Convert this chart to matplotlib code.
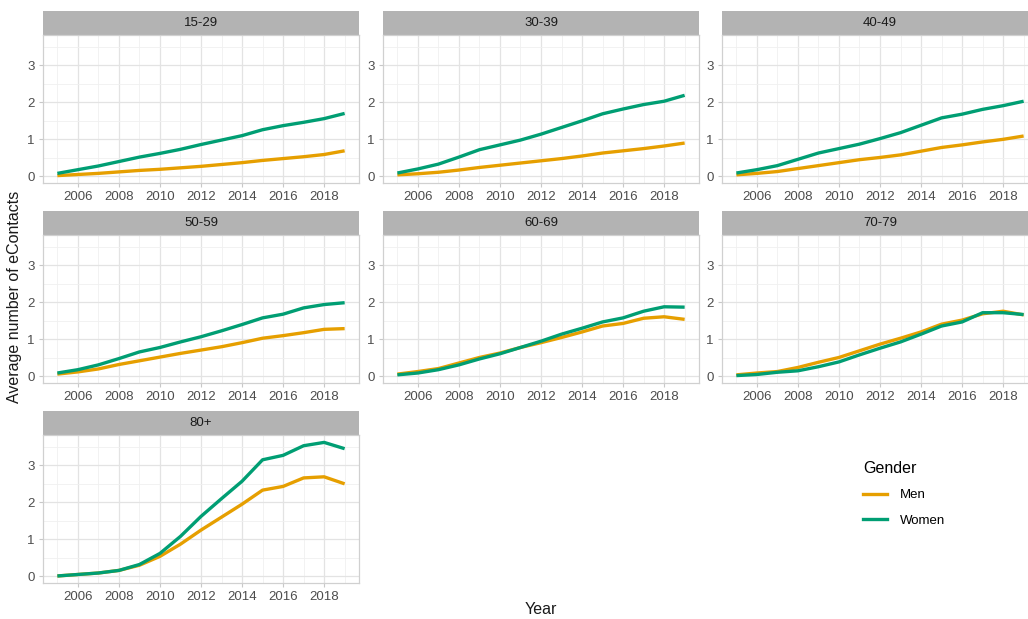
import numpy as np
import matplotlib
matplotlib.use("Agg")
import matplotlib.pyplot as plt
from matplotlib.lines import Line2D

plt.rcParams['font.family'] = ['Liberation Sans', 'DejaVu Sans']

years = list(range(2005, 2020))
groups = ["15-29", "30-39", "40-49", "50-59", "60-69", "70-79", "80+"]

men = {
    "15-29": [0.02, 0.05, 0.08, 0.12, 0.16, 0.19, 0.23, 0.27, 0.32, 0.37, 0.43, 0.48, 0.53, 0.59, 0.69],
    "30-39": [0.04, 0.07, 0.11, 0.17, 0.24, 0.30, 0.36, 0.42, 0.48, 0.55, 0.63, 0.69, 0.75, 0.82, 0.90],
    "40-49": [0.04, 0.08, 0.13, 0.21, 0.29, 0.37, 0.45, 0.51, 0.58, 0.68, 0.78, 0.85, 0.93, 1.00, 1.09],
    "50-59": [0.06, 0.12, 0.20, 0.32, 0.42, 0.52, 0.62, 0.71, 0.80, 0.91, 1.03, 1.10, 1.18, 1.27, 1.29],
    "60-69": [0.06, 0.13, 0.21, 0.36, 0.51, 0.63, 0.78, 0.91, 1.05, 1.20, 1.36, 1.43, 1.57, 1.61, 1.54],
    "70-79": [0.04, 0.09, 0.13, 0.24, 0.38, 0.51, 0.69, 0.87, 1.03, 1.20, 1.41, 1.52, 1.69, 1.76, 1.66],
    "80+":   [0.01, 0.05, 0.09, 0.16, 0.30, 0.54, 0.87, 1.25, 1.60, 1.95, 2.33, 2.43, 2.66, 2.69, 2.50],
}
women = {
    "15-29": [0.08, 0.18, 0.28, 0.40, 0.52, 0.62, 0.73, 0.86, 0.98, 1.10, 1.26, 1.37, 1.46, 1.56, 1.70],
    "30-39": [0.09, 0.20, 0.33, 0.52, 0.72, 0.85, 0.98, 1.14, 1.32, 1.50, 1.69, 1.82, 1.94, 2.03, 2.19],
    "40-49": [0.09, 0.18, 0.29, 0.46, 0.63, 0.75, 0.87, 1.02, 1.18, 1.38, 1.58, 1.68, 1.81, 1.91, 2.03],
    "50-59": [0.09, 0.18, 0.31, 0.48, 0.66, 0.78, 0.93, 1.07, 1.23, 1.40, 1.58, 1.68, 1.85, 1.94, 1.99],
    "60-69": [0.04, 0.09, 0.18, 0.31, 0.47, 0.61, 0.78, 0.95, 1.14, 1.30, 1.47, 1.58, 1.76, 1.88, 1.87],
    "70-79": [0.02, 0.05, 0.11, 0.15, 0.26, 0.39, 0.58, 0.76, 0.93, 1.14, 1.36, 1.47, 1.72, 1.72, 1.67],
    "80+":   [0.01, 0.05, 0.09, 0.16, 0.32, 0.62, 1.08, 1.62, 2.10, 2.57, 3.15, 3.27, 3.53, 3.62, 3.45],
}

men_col = "#E69F00"
women_col = "#009E73"

W, H = 1028, 619
fig = plt.figure(figsize=(W / 100, H / 100), dpi=100)

# panel layout in pixels (the reference crops the right column)
col_left = [43, 383, 722]
panel_w = 316
strip_h = 24
plot_h = 148
row_top = [11, 211, 411]

for i, g in enumerate(groups):
    r, c = divmod(i, 3)
    x0 = col_left[c]
    top = row_top[r]
    # strip
    sax = fig.add_axes([x0 / W, 1 - (top + strip_h) / H, panel_w / W, strip_h / H])
    sax.set_facecolor("#b3b3b3")
    sax.set_xticks([])
    sax.set_yticks([])
    for s in sax.spines.values():
        s.set_visible(False)
    sax.text(0.5, 0.5, g, ha="center", va="center", fontsize=9.5, color="#1a1a1a",
             transform=sax.transAxes)

    ax = fig.add_axes([x0 / W, 1 - (top + strip_h + plot_h) / H, panel_w / W, plot_h / H])
    ax.plot(years, men[g], color=men_col, lw=2.4, solid_capstyle="butt", zorder=3)
    ax.plot(years, women[g], color=women_col, lw=2.4, solid_capstyle="butt", zorder=3)
    ax.set_xlim(2004.3, 2019.7)
    ax.set_ylim(-0.18, 3.82)
    ax.set_xticks(range(2006, 2019, 2))
    ax.set_xticks(range(2005, 2020, 2), minor=True)
    ax.set_yticks([0, 1, 2, 3])
    ax.set_yticks([0.5, 1.5, 2.5, 3.5], minor=True)
    ax.grid(which="major", color="#e3e3e3", lw=0.9)
    ax.grid(which="minor", color="#f0f0f0", lw=0.6)
    ax.set_axisbelow(True)
    ax.tick_params(which="major", labelsize=9.5, labelcolor="#4d4d4d", color="#c8c8c8",
                   length=3, width=0.8, pad=3)
    ax.tick_params(which="minor", length=0)
    for s in ax.spines.values():
        s.set_color("#d0d0d0")
        s.set_linewidth(0.9)

fig.text(15 / W, 1 - 297 / H, "Average number of eContacts", rotation=90,
         ha="center", va="center", fontsize=11.5, color="#1a1a1a")
fig.text(541 / W, 1 - 609 / H, "Year", ha="center", va="center", fontsize=11.5,
         color="#1a1a1a")

handles = [Line2D([0], [0], color=men_col, lw=2.4),
           Line2D([0], [0], color=women_col, lw=2.4)]
leg = fig.legend(handles, ["Men", "Women"], title="Gender", frameon=False,
                 loc="upper left", bbox_to_anchor=(851 / W, 1 - 449 / H),
                 fontsize=9.5, title_fontsize=11.5, handlelength=1.8,
                 labelspacing=1.0, handletextpad=1.0)
leg._legend_box.align = "left"

fig.savefig("out.png", dpi=100)
